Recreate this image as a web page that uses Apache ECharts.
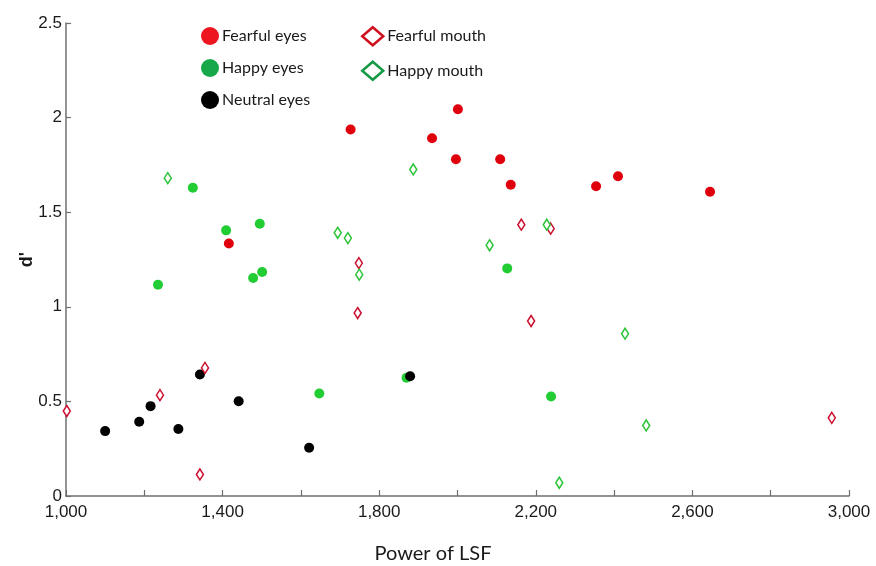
<!DOCTYPE html>
<html>
<head>
<meta charset="utf-8">
<script src="https://cdn.jsdelivr.net/npm/echarts@6/dist/echarts.min.js"></script>
<style>html,body{margin:0;padding:0;background:#fff}#c{width:876px;height:566px}</style>
</head>
<body>
<div id="c"></div>
<script>
const seriesNames = ['Fearful eyes', 'Happy eyes', 'Neutral eyes', 'Fearful mouth', 'Happy mouth'];
const fearfulEyesX = [1416, 1727, 1935, 2001, 1996, 2109, 2136, 2354, 2410, 2645];
const fearfulEyesY = [1.335, 1.937, 1.891, 2.044, 1.780, 1.780, 1.645, 1.637, 1.690, 1.608];
const happyEyesX = [1324, 1409, 1495, 1501, 1478, 1235, 1647, 1870, 2239, 2127];
const happyEyesY = [1.629, 1.404, 1.439, 1.184, 1.152, 1.117, 0.542, 0.625, 0.526, 1.203];
const neutralEyesX = [1100, 1187, 1216, 1287, 1342, 1441, 1621, 1879];
const neutralEyesY = [0.343, 0.392, 0.475, 0.354, 0.642, 0.501, 0.255, 0.633];
const fearfulMouthX = [1002, 1240, 1355, 1342, 1748, 1745, 2188, 2163, 2238, 2956];
const fearfulMouthY = [0.449, 0.533, 0.677, 0.114, 1.231, 0.967, 0.925, 1.434, 1.413, 0.413];
const happyMouthX = [1260, 1887, 1694, 1720, 1749, 2082, 2228, 2260, 2428, 2482];
const happyMouthY = [1.680, 1.726, 1.391, 1.363, 1.170, 1.325, 1.434, 0.070, 0.858, 0.373];
const xTickValues = [1000, 1200, 1400, 1600, 1800, 2000, 2200, 2400, 2600, 2800, 3000];
const yTickValues = [0, 0.5, 1, 1.5, 2, 2.5];

const zip = (xs, ys) => xs.map((x, i) => [x, ys[i]]);

const chart = echarts.init(document.getElementById('c'), null, {renderer: 'canvas'});
const axisColor = '#6f6f6f';
const labelFont = {fontFamily: 'Liberation Sans, Arial, sans-serif', fontSize: 17, color: '#1a1a1a'};
const legendText = {fontFamily: 'Lato, sans-serif', fontSize: 16, color: '#1a1a1a'};

chart.setOption({
  animation: false,
  backgroundColor: '#fff',
  grid: {left: 66, right: 27, top: 23, bottom: 70, outerBoundsMode: 'none', containLabel: false},
  legend: [
    {
      orient: 'vertical', left: 196, top: 22, itemWidth: 18, itemHeight: 18, itemGap: 14,
      textStyle: Object.assign({}, legendText, {padding: [0, 0, 0, -2]}),
      data: [
        {name: 'Fearful eyes', itemStyle: {color: '#ec1520'}},
        {name: 'Happy eyes', itemStyle: {color: '#17a84a'}},
        {name: 'Neutral eyes', itemStyle: {color: '#000'}}
      ]
    },
    {
      orient: 'vertical', left: 356, top: 21, itemWidth: 21, itemHeight: 18, itemGap: 14,
      textStyle: Object.assign({}, legendText, {padding: [0, 0, 0, -1]}),
      data: [
        {name: 'Fearful mouth', icon: 'diamond', itemStyle: {color: '#fff', borderColor: '#d0101e', borderWidth: 2.5}},
        {name: 'Happy mouth', icon: 'diamond', itemStyle: {color: '#fff', borderColor: '#149a44', borderWidth: 2.5}}
      ]
    }
  ],
  xAxis: {
    type: 'value', min: xTickValues[0], max: xTickValues[xTickValues.length - 1], interval: 200,
    name: 'Power of LSF', nameLocation: 'middle', nameGap: 48, nameMoveOverlap: false,
    nameTextStyle: {fontFamily: 'Lato, sans-serif', fontSize: 20, color: '#1a1a1a', padding: [0, 49, 0, 0]},
    axisLine: {lineStyle: {color: axisColor, width: 1.5}},
    axisTick: {inside: true, length: 6, lineStyle: {color: axisColor, width: 1.2}},
    splitLine: {show: false},
    axisLabel: Object.assign({}, labelFont, {
      margin: 8,
      formatter: v => ((v - 1000) % 400 === 0) ? v.toLocaleString('en-US') : ''
    })
  },
  yAxis: {
    type: 'value', min: yTickValues[0], max: yTickValues[yTickValues.length - 1], interval: 0.5,
    name: "d'", nameLocation: 'middle', nameGap: 30, nameMoveOverlap: false,
    nameTextStyle: {fontFamily: 'Liberation Sans, Arial, sans-serif', fontSize: 18, color: '#1a1a1a', fontWeight: 'bold'},
    axisLine: {lineStyle: {color: axisColor, width: 1.5}},
    axisTick: {inside: true, length: 5, lineStyle: {color: axisColor, width: 1.2}},
    splitLine: {show: false},
    axisLabel: Object.assign({}, labelFont, {margin: 4})
  },
  series: [
    {name: seriesNames[0], type: 'scatter', symbol: 'circle', symbolSize: 10,
     itemStyle: {color: '#e0000d', opacity: 1}, data: zip(fearfulEyesX, fearfulEyesY)},
    {name: seriesNames[1], type: 'scatter', symbol: 'circle', symbolSize: 10,
     itemStyle: {color: '#22cc33', opacity: 1}, data: zip(happyEyesX, happyEyesY)},
    {name: seriesNames[2], type: 'scatter', symbol: 'circle', symbolSize: 10,
     itemStyle: {color: '#000', opacity: 1}, data: zip(neutralEyesX, neutralEyesY)},
    {name: seriesNames[3], type: 'scatter', symbol: 'diamond', symbolSize: [7, 11],
     itemStyle: {color: '#fff', borderColor: '#cc1030', borderWidth: 1.6, opacity: 1}, data: zip(fearfulMouthX, fearfulMouthY)},
    {name: seriesNames[4], type: 'scatter', symbol: 'diamond', symbolSize: [7, 11],
     itemStyle: {color: '#fff', borderColor: '#2ec43a', borderWidth: 1.6, opacity: 1}, data: zip(happyMouthX, happyMouthY)}
  ]
});
</script>
</body>
</html>
